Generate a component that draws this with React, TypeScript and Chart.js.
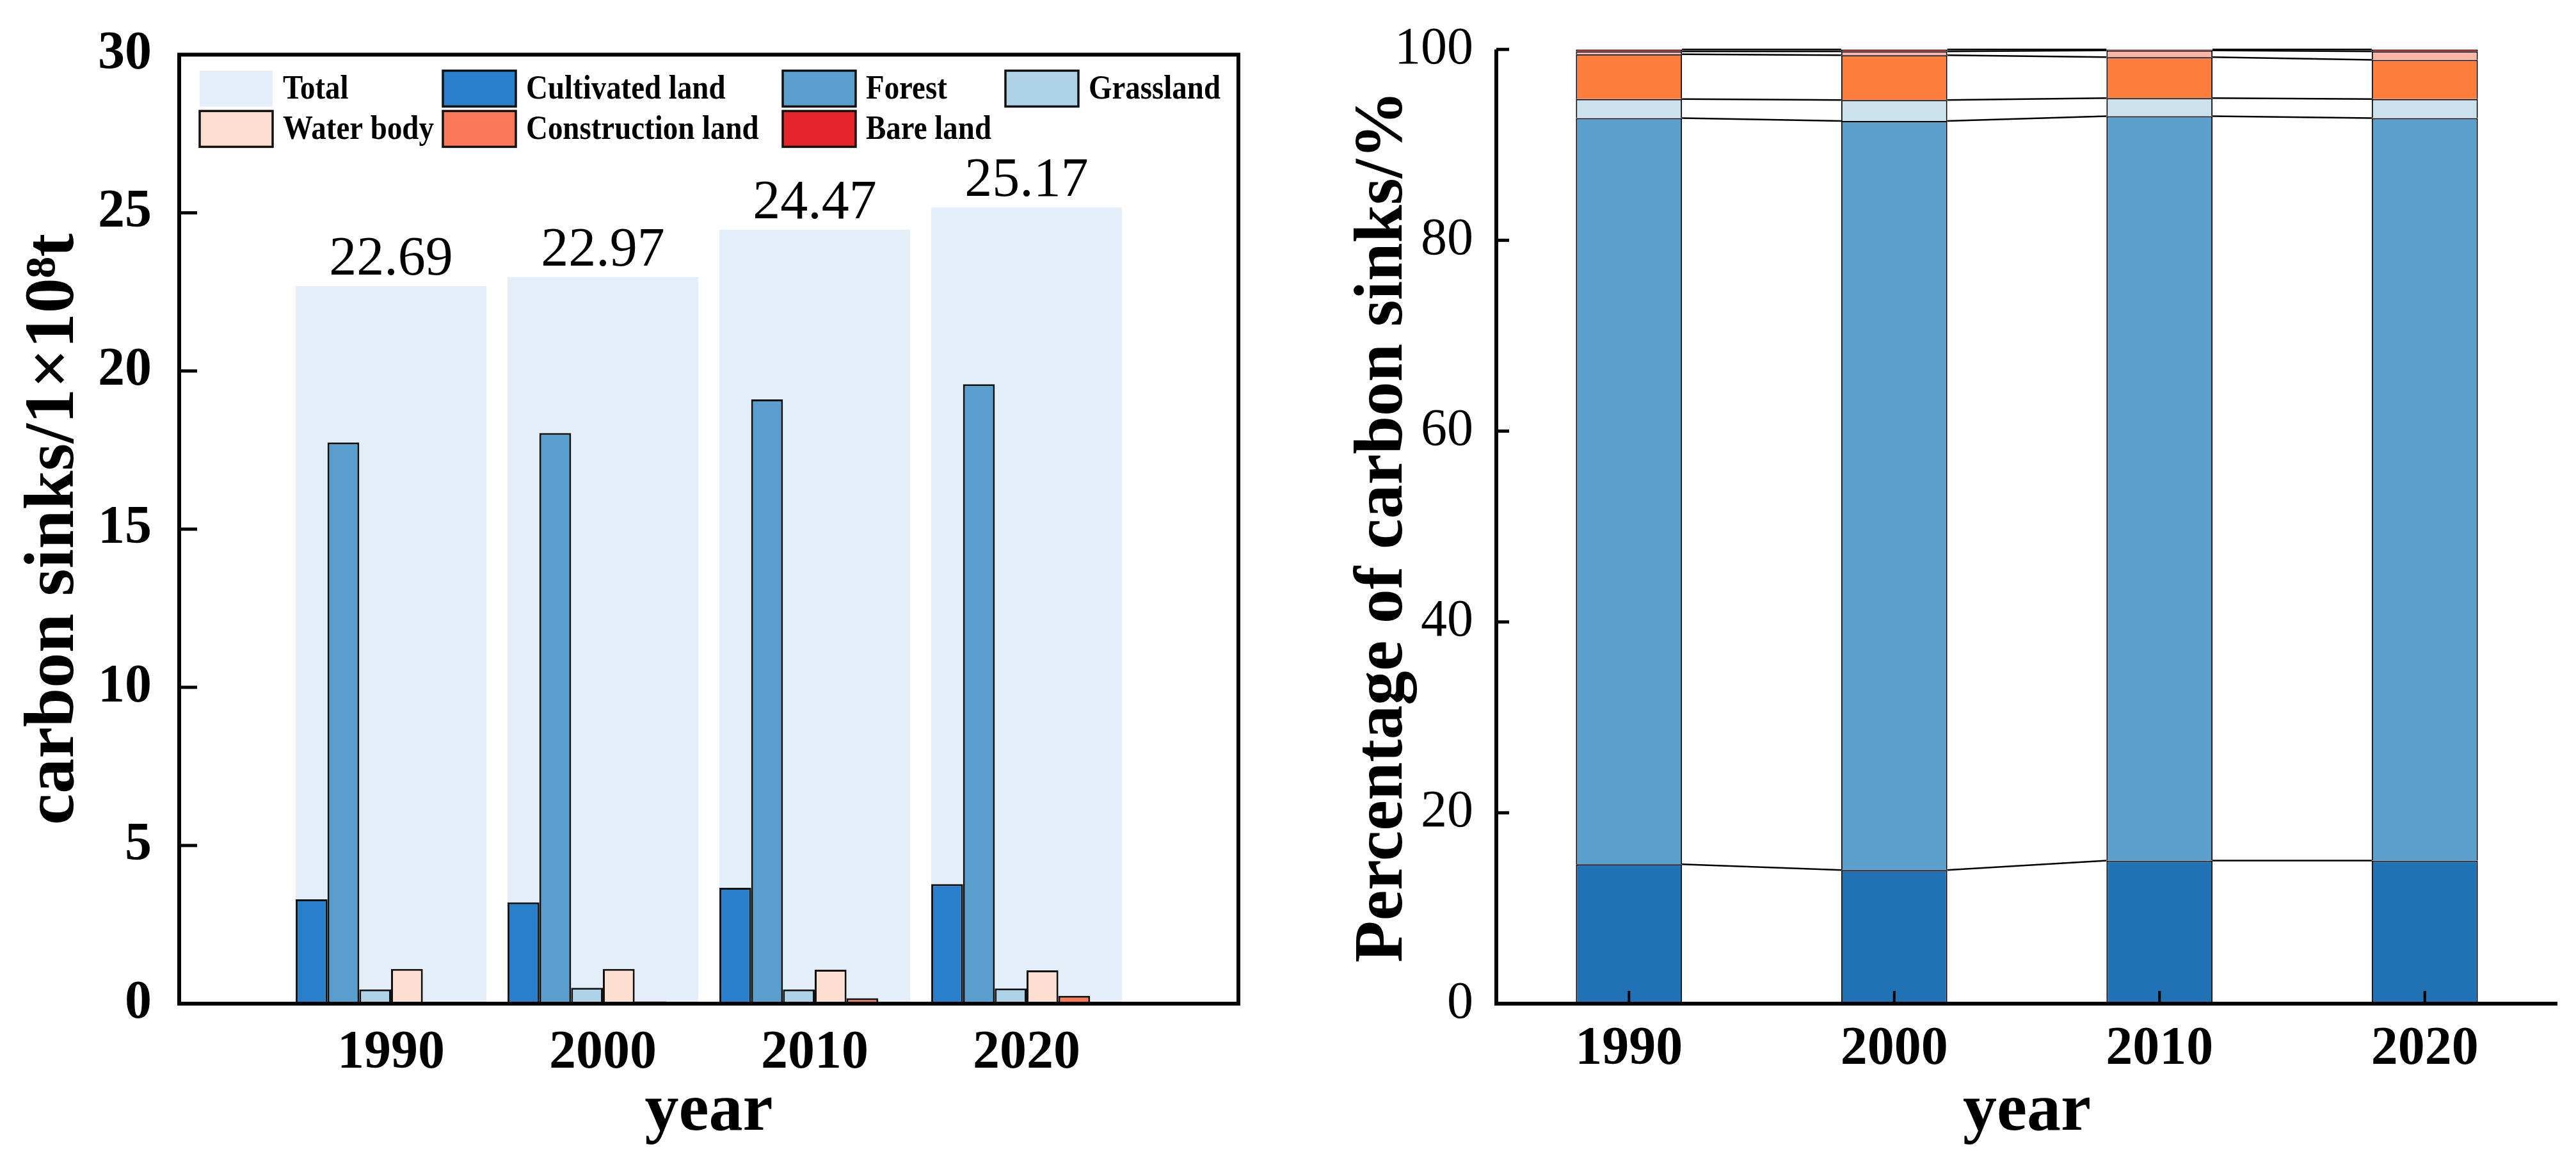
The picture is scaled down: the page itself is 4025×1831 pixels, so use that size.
import React, { useEffect, useRef } from 'react';
import { Chart, registerables } from 'chart.js';

Chart.register(...registerables);

// ---------- data ----------
const years = ['1990', '2000', '2010', '2020'];
const totalSinks = [22.69, 22.97, 24.47, 25.17];
const cultivatedLand = [3.3, 3.2, 3.66, 3.78];
const forest = [17.74, 18.04, 19.1, 19.58];
const grassland = [0.45, 0.5, 0.45, 0.48];
const waterBody = [1.1, 1.1, 1.07, 1.05];
const constructionLand = [0.06, 0.07, 0.17, 0.25];
const bareLand = [0.03, 0.03, 0.03, 0.03];

const cultivatedPct = [14.6, 14.0, 15.0, 15.0];
const forestPct = [78.2, 78.5, 78.0, 77.8];
const grasslandPct = [2.0, 2.2, 1.9, 2.0];
const waterPct = [4.7, 4.7, 4.3, 4.1];
const constructionPct = [0.3, 0.4, 0.7, 0.9];
const barePct = [0.2, 0.2, 0.1, 0.2];

const FONT = "'Liberation Serif', 'Times New Roman', serif";

const LEFT_COLORS = {
  total: '#E3EEF8',
  cultivated: '#2A7FCC',
  forest: '#5A9ECE',
  grass: '#AED3E8',
  water: '#FDDFD2',
  construction: '#FB7858',
  bare: '#E4252B',
};
const RIGHT_COLORS = {
  cultivated: '#2171B5',
  forest: '#5B9FCC',
  grass: '#CCE1EE',
  water: '#FD7E3C',
  construction: '#FDB5A6',
  bare: '#E4252B',
};

const pad = (arr: number[]) => [null, ...arr, null];

// ---------- left chart plugin ----------
const leftDecor = {
  id: 'leftDecor',
  afterDraw(chart: any) {
    const { ctx, chartArea: ca } = chart;
    const y = chart.scales.y;
    ctx.save();
    // frame
    ctx.strokeStyle = '#000';
    ctx.lineWidth = 6;
    ctx.strokeRect(ca.left, ca.top, ca.right - ca.left, ca.bottom - ca.top);
    // inner ticks
    ctx.lineWidth = 5;
    y.ticks.forEach((t: any) => {
      if (t.value <= y.min || t.value >= y.max) return;
      const py = y.getPixelForValue(t.value);
      ctx.beginPath();
      ctx.moveTo(ca.left, py);
      ctx.lineTo(ca.left + 28, py);
      ctx.stroke();
    });
    // total labels
    const meta = chart.getDatasetMeta(0);
    ctx.fillStyle = '#000';
    ctx.font = `86px ${FONT}`;
    ctx.textAlign = 'center';
    ctx.textBaseline = 'alphabetic';
    meta.data.forEach((el: any, i: number) => {
      const v = chart.data.datasets[0].data[i];
      if (v == null) return;
      ctx.fillText(Number(v).toFixed(2), el.x, el.y - 18);
    });
    // legend inside plot
    const items = [
      { label: 'Total', color: LEFT_COLORS.total, border: false, col: 0, row: 0 },
      { label: 'Cultivated land', color: LEFT_COLORS.cultivated, border: true, col: 1, row: 0 },
      { label: 'Forest', color: LEFT_COLORS.forest, border: true, col: 2, row: 0 },
      { label: 'Grassland', color: LEFT_COLORS.grass, border: true, col: 3, row: 0 },
      { label: 'Water body', color: LEFT_COLORS.water, border: true, col: 0, row: 1 },
      { label: 'Construction land', color: LEFT_COLORS.construction, border: true, col: 1, row: 1 },
      { label: 'Bare land', color: LEFT_COLORS.bare, border: true, col: 2, row: 1 },
    ];
    const cols = [32, 412, 943, 1291];
    const rows = [25, 88];
    const bw = 114;
    const bh = 56;
    ctx.font = `bold 51px ${FONT}`;
    ctx.textAlign = 'left';
    ctx.textBaseline = 'middle';
    items.forEach((it) => {
      const bx = ca.left + cols[it.col];
      const by = ca.top + rows[it.row];
      ctx.fillStyle = it.color;
      ctx.fillRect(bx, by, bw, bh);
      if (it.border) {
        ctx.strokeStyle = '#111';
        ctx.lineWidth = 3.5;
        ctx.strokeRect(bx, by, bw, bh);
      }
      ctx.fillStyle = '#000';
      ctx.save();
      ctx.translate(bx + bw + 16, by + bh / 2 + 2);
      ctx.scale(0.92, 1.05);
      ctx.fillText(it.label, 0, 0);
      ctx.restore();
    });
    ctx.restore();
  },
};

// ---------- right chart plugin ----------
const rightDecor = {
  id: 'rightDecor',
  afterDraw(chart: any) {
    const { ctx, chartArea: ca } = chart;
    const y = chart.scales.y;
    const x = chart.scales.x;
    ctx.save();
    // connectors between stacked bars
    ctx.strokeStyle = '#000';
    ctx.lineWidth = 2.5;
    chart.data.datasets.forEach((_: any, d: number) => {
      const meta = chart.getDatasetMeta(d);
      for (let i = 0; i < meta.data.length - 1; i++) {
        const a = meta.data[i];
        const b = meta.data[i + 1];
        ctx.beginPath();
        ctx.moveTo(a.x + a.width / 2, a.y);
        ctx.lineTo(b.x - b.width / 2, b.y);
        ctx.stroke();
      }
    });
    // axes
    ctx.lineWidth = 6;
    ctx.beginPath();
    ctx.moveTo(ca.left, ca.top);
    ctx.lineTo(ca.left, ca.bottom);
    ctx.lineTo(ca.right, ca.bottom);
    ctx.stroke();
    // y ticks inside
    ctx.lineWidth = 5;
    y.ticks.forEach((t: any) => {
      const py = y.getPixelForValue(t.value);
      ctx.beginPath();
      ctx.moveTo(ca.left, py);
      ctx.lineTo(ca.left + 20, py);
      ctx.stroke();
    });
    // x ticks inside
    ctx.lineWidth = 4;
    x.ticks.forEach((_: any, i: number) => {
      const px = x.getPixelForTick(i);
      ctx.beginPath();
      ctx.moveTo(px, ca.bottom);
      ctx.lineTo(px, ca.bottom - 20);
      ctx.stroke();
    });
    ctx.restore();
  },
};

function leftConfig(): any {
  const landBar = (label: string, data: number[], color: string) => ({
    label,
    data: pad(data),
    backgroundColor: color,
    borderColor: '#111',
    borderWidth: 3,
    barPercentage: 1,
    categoryPercentage: 0.9,
    order: 0,
  });
  return {
    type: 'bar',
    data: {
      labels: ['', ...years, ''],
      datasets: [
        {
          label: 'Total',
          data: pad(totalSinks),
          backgroundColor: LEFT_COLORS.total,
          borderWidth: 0,
          grouped: false,
          barPercentage: 1,
          categoryPercentage: 0.9,
          order: 1,
        },
        landBar('Cultivated land', cultivatedLand, LEFT_COLORS.cultivated),
        landBar('Forest', forest, LEFT_COLORS.forest),
        landBar('Grassland', grassland, LEFT_COLORS.grass),
        landBar('Water body', waterBody, LEFT_COLORS.water),
        landBar('Construction land', constructionLand, LEFT_COLORS.construction),
        landBar('Bare land', bareLand, LEFT_COLORS.bare),
      ],
    },
    options: {
      responsive: false,
      animation: false,
      devicePixelRatio: 1,
      layout: { padding: { top: 60, right: 65, left: 0, bottom: 0 } },
      plugins: { legend: { display: false }, tooltip: { enabled: false } },
      scales: {
        x: {
          type: 'category',
          offset: false,
          grid: { display: false },
          border: { display: false },
          ticks: {
            autoSkip: false,
            maxRotation: 0,
            padding: 20,
            color: '#000',
            font: { family: FONT, size: 84, weight: 'bold' },
          },
          title: {
            display: true,
            text: 'year',
            color: '#000',
            font: { family: FONT, size: 106, weight: 'bold' },
            padding: { top: 0, bottom: 30 },
          },
          afterFit: (s: any) => {
            s.height = 263;
          },
        },
        y: {
          min: 0,
          max: 30,
          grid: { display: false },
          border: { display: false },
          ticks: {
            stepSize: 5,
            padding: 35,
            color: '#000',
            font: { family: FONT, size: 84, weight: 'bold' },
          },
          title: {
            display: true,
            text: 'carbon sinks/1×10⁸t',
            color: '#000',
            font: { family: FONT, size: 110, weight: 'bold' },
            padding: { top: 20, bottom: 0 },
          },
          afterFit: (s: any) => {
            s.width = 280;
          },
        },
      },
    },
    plugins: [leftDecor],
  };
}

function rightConfig(): any {
  const seg = (label: string, data: number[], color: string) => ({
    label,
    data,
    backgroundColor: color,
    borderColor: '#000',
    borderWidth: 2,
    barPercentage: 0.4,
    categoryPercentage: 1,
    stack: 's',
  });
  return {
    type: 'bar',
    data: {
      labels: years,
      datasets: [
        seg('Cultivated land', cultivatedPct, RIGHT_COLORS.cultivated),
        seg('Forest', forestPct, RIGHT_COLORS.forest),
        seg('Grassland', grasslandPct, RIGHT_COLORS.grass),
        seg('Water body', waterPct, RIGHT_COLORS.water),
        seg('Construction land', constructionPct, RIGHT_COLORS.construction),
        seg('Bare land', barePct, RIGHT_COLORS.bare),
      ],
    },
    options: {
      responsive: false,
      animation: false,
      devicePixelRatio: 1,
      layout: { padding: { top: 60, right: 29, left: 0, bottom: 0 } },
      plugins: { legend: { display: false }, tooltip: { enabled: false } },
      scales: {
        x: {
          stacked: true,
          grid: { display: false },
          border: { display: false },
          ticks: {
            autoSkip: false,
            maxRotation: 0,
            padding: 14,
            color: '#000',
            font: { family: FONT, size: 84, weight: 'bold' },
          },
          title: {
            display: true,
            text: 'year',
            color: '#000',
            font: { family: FONT, size: 106, weight: 'bold' },
            padding: { top: 0, bottom: 30 },
          },
          afterFit: (s: any) => {
            s.height = 263;
          },
        },
        y: {
          stacked: true,
          min: 0,
          max: 100,
          grid: { display: false },
          border: { display: false },
          ticks: {
            stepSize: 20,
            padding: 28,
            color: '#000',
            font: { family: FONT, size: 82 },
          },
          title: {
            display: true,
            text: 'Percentage of carbon sinks/%',
            color: '#000',
            font: { family: FONT, size: 107, weight: 'bold' },
            padding: { top: 98, bottom: 0 },
          },
          afterFit: (s: any) => {
            s.width = 338;
          },
        },
      },
    },
    plugins: [rightDecor],
  };
}

export default function App() {
  const leftRef = useRef<HTMLCanvasElement>(null);
  const rightRef = useRef<HTMLCanvasElement>(null);
  useEffect(() => {
    const c1 = new Chart(leftRef.current as HTMLCanvasElement, leftConfig());
    const c2 = new Chart(rightRef.current as HTMLCanvasElement, rightConfig());
    return () => {
      c1.destroy();
      c2.destroy();
    };
  }, []);
  return (
    <div
      style={{
        position: 'absolute',
        left: 0,
        top: 0,
        width: 4025,
        height: 1831,
        background: '#fff',
        overflow: 'hidden',
      }}
    >
      <canvas
        ref={leftRef}
        width={2000}
        height={1831}
        style={{ position: 'absolute', left: 0, top: 0, width: 2000, height: 1831 }}
      />
      <canvas
        ref={rightRef}
        width={2025}
        height={1831}
        style={{ position: 'absolute', left: 2000, top: 0, width: 2025, height: 1831 }}
      />
    </div>
  );
}
